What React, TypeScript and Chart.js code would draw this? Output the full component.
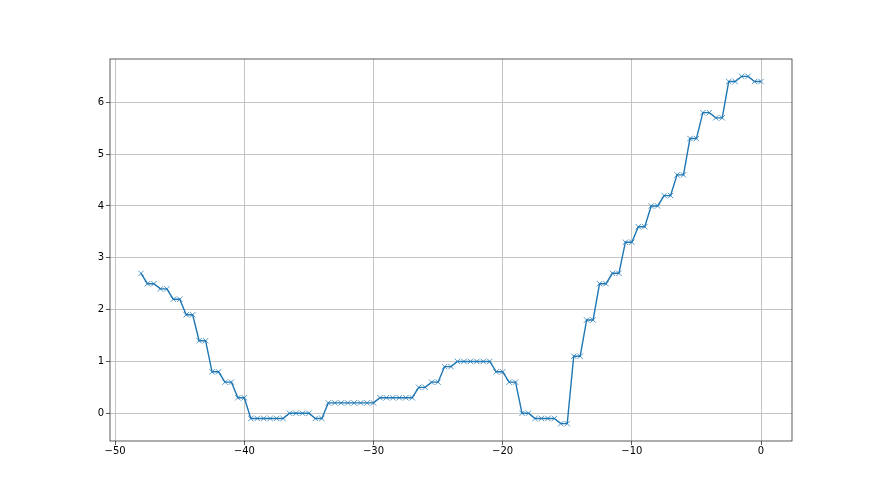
import React, { useEffect, useRef } from "react";
import { Chart, registerables } from "chart.js";

Chart.register(...registerables);

const xValues: number[] = [
  -48,
  -47.5, -47, -46.5, -46, -45.5, -45, -44.5, -44, -43.5, -43,
  -42.5, -42, -41.5, -41, -40.5, -40, -39.5, -39, -38.5, -38,
  -37.5, -37, -36.5, -36, -35.5, -35, -34.5, -34, -33.5, -33,
  -32.5, -32, -31.5, -31, -30.5, -30, -29.5, -29, -28.5, -28,
  -27.5, -27, -26.5, -26, -25.5, -25, -24.5, -24, -23.5, -23,
  -22.5, -22, -21.5, -21, -20.5, -20, -19.5, -19, -18.5, -18,
  -17.5, -17, -16.5, -16, -15.5, -15, -14.5, -14, -13.5, -13,
  -12.5, -12, -11.5, -11, -10.5, -10, -9.5, -9, -8.5, -8,
  -7.5, -7, -6.5, -6, -5.5, -5, -4.5, -4, -3.5, -3,
  -2.5, -2, -1.5, -1, -0.5, 0,
];

const yValues: number[] = [
  2.7,
  2.5, 2.5, 2.4, 2.4, 2.2, 2.2, 1.9, 1.9, 1.4, 1.4,
  0.8, 0.8, 0.6, 0.6, 0.3, 0.3, -0.1, -0.1, -0.1, -0.1,
  -0.1, -0.1, 0.0, 0.0, 0.0, 0.0, -0.1, -0.1, 0.2, 0.2,
  0.2, 0.2, 0.2, 0.2, 0.2, 0.2, 0.3, 0.3, 0.3, 0.3,
  0.3, 0.3, 0.5, 0.5, 0.6, 0.6, 0.9, 0.9, 1.0, 1.0,
  1.0, 1.0, 1.0, 1.0, 0.8, 0.8, 0.6, 0.6, 0.0, 0.0,
  -0.1, -0.1, -0.1, -0.1, -0.2, -0.2, 1.1, 1.1, 1.8, 1.8,
  2.5, 2.5, 2.7, 2.7, 3.3, 3.3, 3.6, 3.6, 4.0, 4.0,
  4.2, 4.2, 4.6, 4.6, 5.3, 5.3, 5.8, 5.8, 5.7, 5.7,
  6.4, 6.4, 6.5, 6.5, 6.4, 6.4,
];

const xTicks: number[] = [-50, -40, -30, -20, -10, 0];
const yTicks: number[] = [0, 1, 2, 3, 4, 5, 6];

const BLUE = "#1f77b4";
const FONT = "'DejaVu Sans', sans-serif";

const framePlugin = {
  id: "frame",
  afterDraw(chart: any) {
    const { ctx, chartArea } = chart;
    ctx.save();
    ctx.strokeStyle = "#333333";
    ctx.lineWidth = 0.8;
    ctx.strokeRect(chartArea.left, chartArea.top, chartArea.right - chartArea.left, chartArea.bottom - chartArea.top);
    ctx.restore();
  },
};

export default function App() {
  const ref = useRef<HTMLCanvasElement | null>(null);

  useEffect(() => {
    document.body.style.margin = "0";
    const canvas = ref.current;
    if (!canvas) return;
    const data = xValues.map((x, i) => ({ x, y: yValues[i] }));
    const xMin = Math.min(...xValues);
    const xMax = Math.max(...xValues);
    const yMin = Math.min(...yValues);
    const yMax = Math.max(...yValues);
    const xm = (xMax - xMin) * 0.05;
    const ym = (yMax - yMin) * 0.05;

    const chart = new Chart(canvas, {
      type: "line",
      data: {
        datasets: [
          {
            data,
            borderColor: BLUE,
            backgroundColor: BLUE,
            borderWidth: 1.4,
            tension: 0,
            fill: false,
            pointStyle: "crossRot",
            pointRadius: 3.8,
            pointBorderWidth: 1,
            pointBorderColor: "rgba(31,119,180,0.75)",
            pointBackgroundColor: BLUE,
          },
        ],
      },
      options: {
        responsive: false,
        animation: false,
        devicePixelRatio: 1,
        layout: { padding: { top: 59, right: 88, left: 0, bottom: 0 } },
        plugins: {
          legend: { display: false },
          tooltip: { enabled: false },
        },
        scales: {
          x: {
            type: "linear",
            min: xMin - xm,
            max: xMax + xm,
            afterBuildTicks: (scale: any) => {
              scale.ticks = xTicks.map((v) => ({ value: v }));
            },
            afterFit: (scale: any) => {
              scale.height = 54;
            },
            border: { display: false },
            grid: {
              color: "#c4c4c4",
              lineWidth: 1,
              drawTicks: true,
              tickLength: 4,
              tickColor: "#333333",
              tickWidth: 0.8,
            },
            ticks: {
              padding: 0,
              color: "#000",
              font: { family: FONT, size: 10 },
              maxRotation: 0,
              callback: (v: any) => String(v).replace("-", "\u2212"),
            },
          },
          y: {
            type: "linear",
            min: yMin - ym,
            max: yMax + ym,
            afterBuildTicks: (scale: any) => {
              scale.ticks = yTicks.map((v) => ({ value: v }));
            },
            afterFit: (scale: any) => {
              scale.width = 110;
            },
            border: { display: false },
            grid: {
              color: "#c4c4c4",
              lineWidth: 1,
              drawTicks: true,
              tickLength: 4,
              tickColor: "#333333",
              tickWidth: 0.8,
            },
            ticks: {
              padding: 2,
              color: "#000",
              font: { family: FONT, size: 10 },
              callback: (v: any) => String(v).replace("-", "\u2212"),
            },
          },
        },
      },
      plugins: [framePlugin],
    });
    return () => chart.destroy();
  }, []);

  return (
    <div style={{ position: "absolute", left: 0, top: 0, width: 880, height: 495, background: "#fff" }}>
      <canvas ref={ref} width={880} height={495} style={{ display: "block", width: 880, height: 495 }} />
    </div>
  );
}
